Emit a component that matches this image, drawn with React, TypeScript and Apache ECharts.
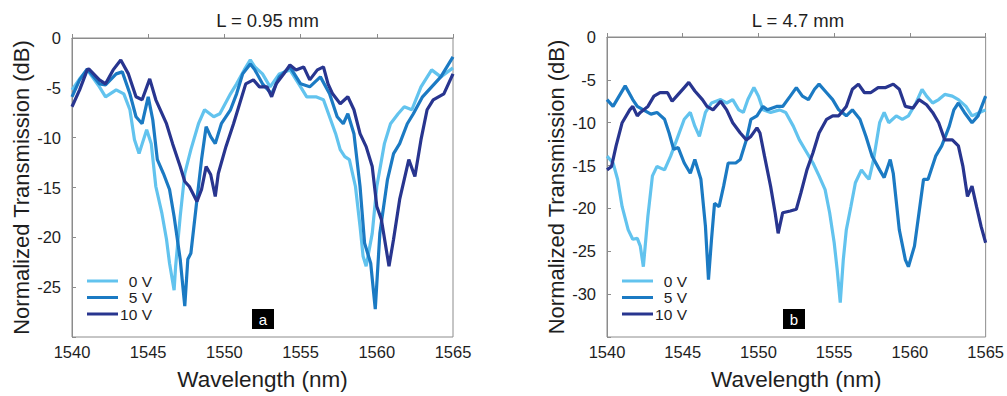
import React, { useEffect, useRef } from "react";
import * as echarts from "echarts";

const xTicks = [1540, 1545, 1550, 1555, 1560, 1565];
const seriesNames = ["0 V", "5 V", "10 V"];
const seriesColors = ["#62c3ee", "#1b7ac3", "#28358f"];
const panelTitles = ["L = 0.95 mm", "L = 4.7 mm"];
const panelTags = ["a", "b"];
const yMins = [-30, -35];

// Panel a (L = 0.95 mm): [wavelength nm, transmission dB]
const a0V = [[1540,-5.2],[1540.5,-4.1],[1541,-3.2],[1541.8,-4.9],[1542.2,-5.9],[1542.9,-5.2],[1543.4,-5.6],[1543.8,-7.2],[1544.1,-10.2],[1544.4,-11.6],[1544.9,-9.2],[1545.2,-10.6],[1545.5,-14.9],[1545.9,-17.6],[1546.2,-20.2],[1546.4,-22.6],[1546.7,-25.3],[1546.8,-22.9],[1547.1,-17.9],[1547.4,-13.6],[1547.8,-11.2],[1548.3,-8.6],[1548.7,-7.2],[1549.3,-7.9],[1549.7,-7.6],[1550.4,-5.6],[1550.8,-4.6],[1551.3,-3.2],[1551.7,-2.2],[1552.0,-2.9],[1552.5,-3.6],[1553.0,-4.9],[1553.6,-3.6],[1554.3,-3.2],[1555.0,-4.9],[1555.4,-5.9],[1556.0,-5.9],[1556.5,-6.2],[1556.9,-7.9],[1557.3,-9.6],[1557.6,-11.2],[1557.9,-11.9],[1558.2,-12.2],[1558.6,-14.9],[1558.9,-18.9],[1559.1,-21.9],[1559.3,-22.9],[1559.7,-19.6],[1560.0,-14.9],[1560.5,-10.6],[1560.9,-8.6],[1561.4,-7.6],[1561.8,-6.9],[1562.3,-7.2],[1562.9,-4.9],[1563.6,-3.2],[1564.2,-3.9],[1565,-3.0]];
const a5V = [[1540,-5.9],[1540.5,-4.2],[1541,-3.1],[1541.8,-4.6],[1542.2,-4.7],[1542.9,-3.6],[1543.3,-3.4],[1543.8,-5.6],[1544.2,-7.9],[1544.6,-8.6],[1545.0,-5.9],[1545.3,-8.2],[1545.6,-12.2],[1546.0,-13.6],[1546.4,-15.2],[1546.7,-17.9],[1547.1,-22.2],[1547.4,-26.9],[1547.6,-22.2],[1547.8,-21.6],[1548.2,-16.2],[1548.5,-12.2],[1548.8,-8.9],[1549.1,-9.9],[1549.4,-10.6],[1549.8,-8.6],[1550.4,-7.2],[1550.8,-5.6],[1551.2,-3.6],[1551.7,-2.6],[1552.0,-3.2],[1552.5,-4.6],[1553.1,-5.6],[1553.6,-3.9],[1554.3,-2.9],[1555.0,-4.6],[1555.6,-4.9],[1556.3,-3.9],[1556.9,-5.6],[1557.4,-7.9],[1557.8,-8.6],[1558.1,-7.6],[1558.5,-9.6],[1558.9,-14.9],[1559.2,-20.6],[1559.6,-22.6],[1559.9,-27.2],[1560.2,-19.6],[1560.7,-14.2],[1561.1,-11.6],[1561.5,-10.6],[1562.0,-8.6],[1562.4,-7.6],[1563.0,-5.9],[1563.6,-4.9],[1564.2,-3.9],[1565,-1.9]];
const a10V = [[1540,-6.9],[1540.5,-5.2],[1541,-3.2],[1541.1,-3.1],[1541.8,-4.2],[1542.2,-4.6],[1542.7,-3.2],[1543.2,-2.2],[1543.7,-3.6],[1544.2,-5.9],[1544.6,-6.2],[1545.1,-4.1],[1545.5,-6.2],[1546.2,-8.6],[1546.6,-10.6],[1547.1,-12.9],[1547.4,-14.4],[1547.7,-14.9],[1548.2,-16.4],[1548.5,-15.2],[1548.8,-12.9],[1549.1,-13.7],[1549.4,-15.9],[1549.6,-13.6],[1550.1,-10.9],[1550.6,-8.6],[1551.0,-6.6],[1551.4,-4.6],[1551.9,-4.2],[1552.3,-4.9],[1552.8,-4.9],[1553.1,-5.9],[1553.4,-4.6],[1553.9,-3.6],[1554.3,-2.7],[1554.7,-3.2],[1555.2,-2.9],[1555.6,-4.2],[1556.1,-3.2],[1556.5,-2.9],[1556.8,-4.6],[1557.1,-5.6],[1557.6,-6.6],[1558.1,-5.9],[1558.5,-7.2],[1558.9,-9.6],[1559.3,-10.9],[1559.7,-12.9],[1560.0,-16.9],[1560.3,-18.2],[1560.8,-22.9],[1561.1,-20.2],[1561.5,-16.2],[1562.1,-12.2],[1562.5,-13.9],[1562.9,-10.2],[1563.3,-7.2],[1563.7,-6.2],[1564.4,-5.6],[1565,-3.6]];

// Panel b (L = 4.7 mm)
const b0V = [[1540,-13.9],[1540.4,-14.7],[1540.7,-16.6],[1541,-19.8],[1541.4,-22.5],[1541.7,-23.6],[1542,-23.5],[1542.2,-24.4],[1542.4,-26.8],[1542.7,-20.9],[1543,-16.2],[1543.3,-15.1],[1543.8,-15.5],[1544.2,-13.9],[1544.6,-12.0],[1545.1,-9.6],[1545.5,-8.8],[1545.8,-10.4],[1546.1,-11.6],[1546.5,-8.8],[1546.9,-7.7],[1547.5,-7.3],[1547.9,-7.7],[1548.3,-7.3],[1548.7,-8.5],[1549,-8.8],[1549.3,-7.3],[1549.7,-5.9],[1550,-6.9],[1550.3,-8.5],[1550.8,-8.8],[1551.4,-8.5],[1551.8,-8.8],[1552.3,-10.4],[1552.7,-12.0],[1553.2,-13.5],[1553.6,-14.7],[1554,-16.2],[1554.4,-17.8],[1554.7,-20.5],[1555,-24.0],[1555.2,-27.2],[1555.4,-31.0],[1555.6,-26.0],[1555.8,-22.5],[1556.1,-19.8],[1556.4,-17.0],[1556.8,-15.5],[1557.1,-16.2],[1557.3,-16.6],[1557.6,-14.3],[1558,-10.0],[1558.3,-8.8],[1558.6,-10.0],[1559.1,-9.2],[1559.5,-9.6],[1559.9,-9.2],[1560.4,-7.7],[1560.8,-6.1],[1561.1,-6.9],[1561.5,-7.7],[1561.9,-7.3],[1562.3,-6.7],[1562.8,-6.9],[1563.2,-7.3],[1563.7,-8.1],[1564.1,-9.2],[1564.6,-8.8],[1565,-8.5]];
const b5V = [[1540,-7.3],[1540.4,-8.1],[1540.8,-6.9],[1541.2,-5.7],[1541.7,-7.3],[1542,-8.1],[1542.4,-8.5],[1542.9,-9.0],[1543.3,-8.8],[1543.8,-9.6],[1544.1,-11.2],[1544.4,-13.1],[1544.7,-12.9],[1545.1,-14.7],[1545.5,-15.9],[1545.8,-14.3],[1546.2,-16.6],[1546.5,-22.1],[1546.7,-28.3],[1546.9,-23.6],[1547.1,-19.4],[1547.4,-19.8],[1547.7,-17.4],[1548,-14.7],[1548.5,-14.7],[1548.8,-14.3],[1549.2,-12.0],[1549.5,-9.6],[1549.9,-9.2],[1550.3,-8.1],[1550.6,-8.5],[1551.2,-8.1],[1551.6,-8.1],[1552.1,-6.9],[1552.5,-5.9],[1552.9,-6.9],[1553.3,-7.3],[1553.7,-6.1],[1554,-5.5],[1554.5,-6.5],[1554.9,-7.3],[1555.3,-8.5],[1555.8,-9.2],[1556.2,-8.5],[1556.7,-9.6],[1557.1,-11.6],[1557.5,-13.9],[1558,-15.5],[1558.3,-16.4],[1558.7,-14.3],[1558.9,-15.9],[1559.3,-22.5],[1559.7,-26.0],[1559.9,-26.8],[1560.3,-24.4],[1560.6,-20.5],[1560.9,-16.6],[1561.2,-16.6],[1561.7,-13.9],[1562.1,-12.7],[1562.6,-10.4],[1562.9,-8.5],[1563.2,-7.7],[1563.6,-8.8],[1564.1,-10.0],[1564.5,-9.2],[1565,-6.9]];
const b10V = [[1540,-15.5],[1540.3,-15.1],[1540.6,-12.7],[1541,-10.0],[1541.5,-8.5],[1541.7,-8.1],[1542,-9.2],[1542.2,-8.8],[1542.7,-8.1],[1543.1,-6.9],[1543.5,-6.5],[1544,-6.5],[1544.3,-7.5],[1544.6,-6.9],[1545.1,-5.9],[1545.4,-5.3],[1545.8,-6.3],[1546.3,-7.3],[1546.6,-8.1],[1547,-8.5],[1547.5,-7.5],[1547.9,-8.5],[1548.3,-10.0],[1548.8,-11.2],[1549.2,-12.0],[1549.5,-11.6],[1549.9,-10.6],[1550.1,-11.2],[1550.4,-13.9],[1550.8,-17.4],[1551.1,-20.5],[1551.3,-22.9],[1551.6,-20.5],[1552.1,-20.3],[1552.5,-20.1],[1552.8,-18.2],[1553.2,-15.5],[1553.6,-13.5],[1554,-11.2],[1554.5,-9.6],[1554.9,-9.2],[1555.3,-9.2],[1555.8,-8.1],[1556.2,-6.1],[1556.6,-5.5],[1557,-6.5],[1557.4,-6.5],[1557.9,-5.9],[1558.4,-5.9],[1558.9,-5.5],[1559.3,-6.1],[1559.7,-8.1],[1560.2,-8.3],[1560.6,-7.3],[1561.1,-7.9],[1561.5,-8.8],[1561.9,-10.0],[1562.3,-12.0],[1562.8,-12.0],[1563.2,-12.7],[1563.5,-15.1],[1563.8,-18.6],[1564.1,-17.4],[1564.4,-19.8],[1564.7,-22.1],[1565,-24.0]];

const panelData = [[a0V, a5V, a10V], [b0V, b5V, b10V]];

const FONT = "'Liberation Sans', Arial, Helvetica, sans-serif";
const grids = [
  { left: 72, top: 38, width: 381, height: 299 },
  { left: 607, top: 37, width: 380, height: 300 },
];
const AXIS_GRAY = "#8c8c8c";
const TXT = "#1e1e1e";

export default function App() {
  const ref = useRef<HTMLDivElement>(null);
  useEffect(() => {
    document.body.style.margin = "0";
    const chart = echarts.init(ref.current!, null, { renderer: "svg" });
    const xAxis = grids.map((_, i) => ({
      type: "value",
      gridIndex: i,
      min: xTicks[0],
      max: xTicks[xTicks.length - 1],
      interval: 5,
      name: "Wavelength (nm)",
      nameLocation: "middle",
      nameGap: 31,
      nameTextStyle: { fontSize: 22.5, color: TXT, fontFamily: FONT },
      axisLine: { show: true, lineStyle: { color: AXIS_GRAY, width: 1 } },
      axisTick: { show: true, inside: true, length: 4, lineStyle: { color: AXIS_GRAY } },
      axisLabel: { color: TXT, fontSize: 16.5, margin: 6, fontFamily: FONT, formatter: (v: number) => String(v) },
      splitLine: { show: false },
    }));
    const yAxis = grids.map((_, i) => ({
      type: "value",
      gridIndex: i,
      min: yMins[i],
      max: 0,
      interval: 5,
      name: "Normalized Transmission (dB)",
      nameLocation: "middle",
      nameGap: 40,
      nameTextStyle: { fontSize: 22, color: TXT, fontFamily: FONT },
      axisLine: { show: true, lineStyle: { color: AXIS_GRAY, width: 1 } },
      axisTick: { show: true, inside: true, length: 4, lineStyle: { color: AXIS_GRAY } },
      axisLabel: {
        color: TXT,
        fontSize: 16.5,
        margin: 11,
        fontFamily: FONT,
        formatter: (v: number) => (v === yMins[i] ? "" : String(v)),
      },
      splitLine: { show: false },
    }));
    const series: any[] = [];
    panelData.forEach((set, p) => {
      set.forEach((d, k) => {
        series.push({
          type: "line",
          name: seriesNames[k],
          xAxisIndex: p,
          yAxisIndex: p,
          data: d,
          showSymbol: false,
          symbol: "none",
          lineStyle: { color: seriesColors[k], width: 3.2 },
          itemStyle: { color: seriesColors[k] },
        });
      });
    });
    const graphic: any[] = [];
    grids.forEach((g, p) => {
      graphic.push({
        type: "text",
        x: g.left + g.width / 2 + (p === 0 ? 5 : 1),
        y: 20,
        style: { text: panelTitles[p], fill: TXT, font: `18.5px ${FONT}`, align: "center", verticalAlign: "middle" },
      });
      const lx0 = g.left + 15;
      seriesNames.forEach((n, k) => {
        const yy = 281 + k * 16.5;
        graphic.push({
          type: "line",
          shape: { x1: lx0, y1: yy, x2: lx0 + 31, y2: yy },
          style: { stroke: seriesColors[k], lineWidth: 3 },
        });
        graphic.push({
          type: "text",
          x: lx0 + 65,
          y: yy,
          style: { text: n, fill: TXT, font: `15.5px ${FONT}`, align: "right", verticalAlign: "middle" },
        });
      });
      const bx = g.left + (p === 0 ? 180 : 176);
      graphic.push({
        type: "rect",
        shape: { x: bx, y: 309, width: 22, height: 20 },
        style: { fill: "#000" },
      });
      graphic.push({
        type: "text",
        x: bx + 11,
        y: 319,
        style: { text: panelTags[p], fill: "#fff", font: `15px ${FONT}`, align: "center", verticalAlign: "middle" },
      });
    });
    chart.setOption({
      animation: false,
      backgroundColor: "#fff",
      grid: grids.map((g) => ({ ...g, show: true, borderColor: AXIS_GRAY, borderWidth: 1, backgroundColor: "transparent" })),
      xAxis,
      yAxis,
      series,
      graphic,
    });
    return () => chart.dispose();
  }, []);
  return <div ref={ref} style={{ width: 1007, height: 396 }} />;
}
